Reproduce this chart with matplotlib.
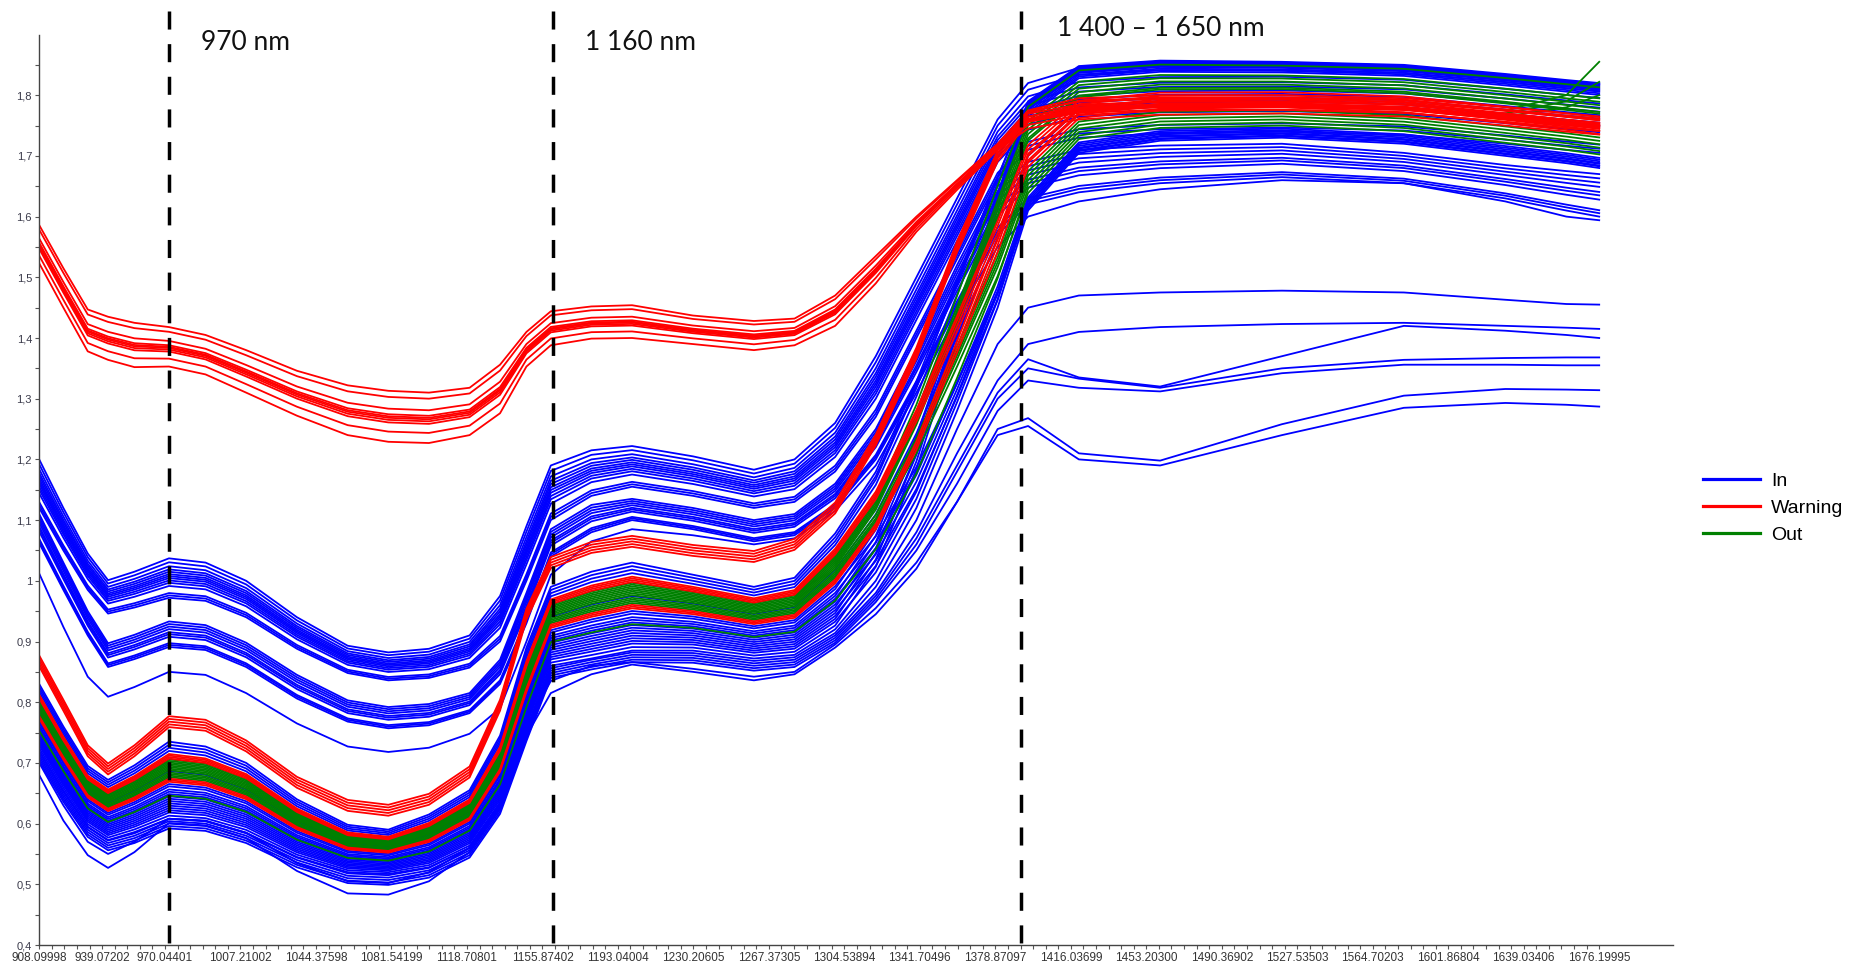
import numpy as np
import matplotlib
matplotlib.use("Agg")
import matplotlib.pyplot as plt
from matplotlib.lines import Line2D
from matplotlib.ticker import FixedLocator, FuncFormatter

plt.rcParams['font.family'] = ['Liberation Sans', 'DejaVu Sans']
plt.rcParams['lines.scale_dashes'] = False

WL = [908.1, 920, 932, 942, 955, 972, 990, 1010, 1035, 1060, 1080, 1100, 1120, 1135,
      1148, 1160, 1180, 1200, 1230, 1260, 1280, 1300, 1320, 1340, 1360, 1380, 1395,
      1420, 1460, 1520, 1580, 1630, 1660, 1676.2]

# share of the way each spectrum has moved from its low-region slot to its plateau slot
BLEND = [0] * 22 + [0.1, 0.3, 0.55, 0.8, 1, 1, 1, 1, 1, 1, 1, 1]

# --- bundle edges (absorbance) ---
RED_TOP_HI = [1.586, 1.515, 1.447, 1.435, 1.425, 1.418, 1.405, 1.38, 1.346, 1.322, 1.313, 1.31,
              1.318, 1.356, 1.41, 1.444, 1.452, 1.454, 1.437, 1.428, 1.432, 1.47, 1.535, 1.60,
              1.66, 1.72, 1.775, 1.795, 1.80, 1.80, 1.795, 1.78, 1.77, 1.765]
RED_TOP_LO = [1.523, 1.45, 1.378, 1.364, 1.352, 1.353, 1.34, 1.31, 1.272, 1.24, 1.229, 1.227,
              1.24, 1.276, 1.353, 1.388, 1.399, 1.40, 1.39, 1.38, 1.388, 1.42, 1.49, 1.575,
              1.644, 1.71, 1.745, 1.76, 1.768, 1.77, 1.765, 1.75, 1.74, 1.735]
RED_TOP_FRAC = [0.0, 0.2, 0.38, 0.43, 0.47, 0.5, 0.54, 0.65, 0.88, 1.0]

RED_MID = [0.868, 0.795, 0.72, 0.69, 0.72, 0.768, 0.762, 0.728, 0.668, 0.63, 0.622, 0.64,
           0.685, 0.795, 0.945, 1.03, 1.055, 1.065, 1.05, 1.04, 1.06, 1.12, 1.232, 1.375,
           1.55, 1.70, 1.765, 1.78, 1.785, 1.785, 1.78, 1.765, 1.755, 1.75]
RED_MID_OFFSETS = [-0.009, -0.0045, 0.0, 0.0045, 0.009]

UPPER_A_HI = [1.20, 1.12, 1.045, 1.001, 1.015, 1.037, 1.03, 1.00, 0.94, 0.893, 0.882, 0.888,
              0.91, 0.975, 1.09, 1.19, 1.215, 1.222, 1.205, 1.183, 1.20, 1.26, 1.37, 1.50,
              1.63, 1.76, 1.82, 1.845, 1.853, 1.853, 1.848, 1.833, 1.823, 1.818]
UPPER_A_LO = [1.12, 1.05, 0.985, 0.946, 0.956, 0.972, 0.967, 0.94, 0.888, 0.848, 0.836, 0.84,
              0.857, 0.90, 1.00, 1.10, 1.14, 1.155, 1.14, 1.12, 1.13, 1.18, 1.27, 1.40,
              1.53, 1.66, 1.71, 1.73, 1.737, 1.74, 1.735, 1.72, 1.71, 1.705]
UPPER_A_FRAC = [0.0, 0.06, 0.12, 0.3, 0.38, 0.44, 0.5, 0.55, 0.6, 0.66, 0.72, 0.8, 0.9, 1.0]

UPPER_B_HI = [1.11, 1.03, 0.95, 0.897, 0.911, 0.933, 0.927, 0.898, 0.845, 0.803, 0.792, 0.797,
              0.815, 0.87, 0.98, 1.085, 1.125, 1.135, 1.12, 1.10, 1.11, 1.16, 1.25, 1.38,
              1.52, 1.65, 1.69, 1.71, 1.717, 1.72, 1.705, 1.685, 1.675, 1.67]
UPPER_B_LO = [1.062, 0.985, 0.91, 0.858, 0.871, 0.891, 0.886, 0.858, 0.806, 0.768, 0.757, 0.762,
              0.782, 0.83, 0.93, 1.04, 1.08, 1.10, 1.085, 1.065, 1.075, 1.12, 1.20, 1.32,
              1.45, 1.57, 1.62, 1.64, 1.655, 1.665, 1.655, 1.63, 1.61, 1.60]
UPPER_B_FRAC = [0.0, 0.08, 0.15, 0.4, 0.5, 0.58, 0.7, 0.8, 0.9, 1.0]

SINGLE = [1.012, 0.924, 0.842, 0.809, 0.825, 0.85, 0.845, 0.815, 0.765, 0.727, 0.718, 0.725,
          0.748, 0.79, 0.90, 1.01, 1.065, 1.085, 1.075, 1.06, 1.07, 1.115, 1.19, 1.31,
          1.44, 1.55, 1.60, 1.625, 1.645, 1.66, 1.655, 1.625, 1.60, 1.594]

DENSE_HI = [0.830, 0.760, 0.695, 0.672, 0.696, 0.735, 0.727, 0.700, 0.640, 0.598, 0.590, 0.615,
            0.655, 0.745, 0.890, 0.990, 1.015, 1.030, 1.010, 0.990, 1.005, 1.078, 1.180, 1.330,
            1.500, 1.670, 1.790, 1.848, 1.857, 1.855, 1.850, 1.835, 1.825, 1.820]
DENSE_LO = [0.720, 0.655, 0.595, 0.573, 0.586, 0.608, 0.604, 0.585, 0.545, 0.520, 0.517, 0.528,
            0.560, 0.630, 0.750, 0.860, 0.872, 0.885, 0.885, 0.872, 0.878, 0.920, 1.000, 1.120,
            1.280, 1.450, 1.610, 1.705, 1.725, 1.730, 1.720, 1.700, 1.688, 1.680]
DENSE_IN_LOW = [0.00, 0.04, 0.08, 0.11, 0.14, 0.17, 0.20, 0.23, 0.26, 0.29, 0.32, 0.35, 0.38,
                0.42, 0.45, 0.62, 0.88, 0.92, 0.96, 1.00]
DENSE_IN_HIGH = [0.00, 0.92, 0.05, 0.96, 0.10, 1.00, 0.03, 0.88, 0.08, 0.94, 0.12, 0.98, 0.06,
                 0.90, 0.02, 0.50, 0.86, 0.99, 0.93, 0.97]
DENSE_WARN_LOW = [0.48, 0.50, 0.52, 0.78, 0.80, 0.82, 0.84]
DENSE_WARN_HIGH = [0.40, 0.46, 0.52, 0.44, 0.50, 0.56, 0.60]
DENSE_OUT_LOW = [0.30, 0.54, 0.56, 0.58, 0.60, 0.63, 0.65, 0.67, 0.69, 0.71, 0.73, 0.75, 0.77]
DENSE_OUT_HIGH = [0.20, 0.16, 0.24, 0.28, 0.32, 0.36, 0.66, 0.70, 0.74, 0.78, 0.82, 0.95, 0.64]

LOWEST_1 = [0.680, 0.605, 0.548, 0.527, 0.553, 0.601, 0.597, 0.576, 0.522, 0.485, 0.483, 0.505,
            0.553, 0.625, 0.745, 0.815, 0.846, 0.862, 0.850, 0.836, 0.846, 0.890, 0.945, 1.020,
            1.130, 1.250, 1.268, 1.210, 1.198, 1.258, 1.305, 1.316, 1.315, 1.314]
LOWEST_2 = [0.700, 0.630, 0.570, 0.550, 0.570, 0.608, 0.605, 0.585, 0.535, 0.505, 0.502, 0.520,
            0.560, 0.635, 0.760, 0.835, 0.860, 0.866, 0.855, 0.842, 0.850, 0.895, 0.955, 1.030,
            1.130, 1.240, 1.255, 1.200, 1.190, 1.240, 1.285, 1.293, 1.290, 1.287]

# late-rising spectra that stay below the plateau: shared low part, own tail from 1320 nm
OUTLIER_LOW = [0.715, 0.648, 0.59, 0.568, 0.58, 0.604, 0.6, 0.58, 0.54, 0.514, 0.511, 0.523,
               0.556, 0.628, 0.748, 0.852, 0.866, 0.878, 0.877, 0.864, 0.87, 0.91]
OUTLIER_SHIFT = [0.004, 0.0, -0.004, -0.008, -0.012]
OUTLIER_TAILS = [
    [0.99, 1.10, 1.25, 1.39, 1.45, 1.47, 1.475, 1.478, 1.475, 1.463, 1.456, 1.455],
    [0.98, 1.08, 1.21, 1.33, 1.39, 1.41, 1.418, 1.423, 1.425, 1.42, 1.417, 1.415],
    [0.975, 1.07, 1.19, 1.31, 1.365, 1.335, 1.32, 1.37, 1.42, 1.412, 1.405, 1.40],
    [0.97, 1.06, 1.18, 1.30, 1.35, 1.333, 1.318, 1.35, 1.364, 1.367, 1.368, 1.368],
    [0.965, 1.05, 1.16, 1.28, 1.33, 1.318, 1.312, 1.342, 1.356, 1.356, 1.355, 1.355],
]

# green spectra curling up at the long-wavelength end
GREEN_TAIL_WL = [1630, 1660, 1676.2]
GREEN_TAILS = [[1.775, 1.80, 1.855], [1.77, 1.79, 1.822], [1.765, 1.78, 1.80]]

X_LABELS = ['908.09998', '939.07202', '970.04401', '1007.21002', '1044.37598', '1081.54199',
            '1118.70801', '1155.87402', '1193.04004', '1230.20605', '1267.37305', '1304.53894',
            '1341.70496', '1378.87097', '1416.03699', '1453.20300', '1490.36902', '1527.53503',
            '1564.70203', '1601.86804', '1639.03406', '1676.19995']
MARKED_WL = [972.1, 1161.2, 1391.6]
MARK_TEXT = ['970 nm', '1 160 nm', '1 400 \u2013 1 650 nm']

COLORS = {'In': '#0000ff', 'Warning': '#ff0000', 'Out': '#008000'}

wl = np.array(WL)
blend = np.array(BLEND, dtype=float)


def band_line(lo, hi, f_low, f_high=None):
    lo, hi = np.array(lo), np.array(hi)
    if f_high is None:
        f_high = f_low
    f = (1 - blend) * f_low + blend * f_high
    return lo + f * (hi - lo)


spectra = []  # (values, status)
for f in UPPER_A_FRAC:
    spectra.append((band_line(UPPER_A_LO, UPPER_A_HI, f), 'In'))
for f in UPPER_B_FRAC:
    spectra.append((band_line(UPPER_B_LO, UPPER_B_HI, f), 'In'))
spectra.append((np.array(SINGLE), 'In'))
for a, b in zip(DENSE_IN_LOW, DENSE_IN_HIGH):
    spectra.append((band_line(DENSE_LO, DENSE_HI, a, b), 'In'))
spectra.append((np.array(LOWEST_1), 'In'))
spectra.append((np.array(LOWEST_2), 'In'))
for s, tail in zip(OUTLIER_SHIFT, OUTLIER_TAILS):
    spectra.append((np.concatenate([np.array(OUTLIER_LOW) + s, tail]), 'In'))
for a, b in zip(DENSE_OUT_LOW, DENSE_OUT_HIGH):
    spectra.append((band_line(DENSE_LO, DENSE_HI, a, b), 'Out'))
for a, b in zip(DENSE_WARN_LOW, DENSE_WARN_HIGH):
    spectra.append((band_line(DENSE_LO, DENSE_HI, a, b), 'Warning'))
for off in RED_MID_OFFSETS:
    spectra.append((np.array(RED_MID) + off, 'Warning'))
for f in RED_TOP_FRAC:
    spectra.append((band_line(RED_TOP_LO, RED_TOP_HI, f), 'Warning'))

W, H = 1865, 971
fig = plt.figure(figsize=(W / 100, H / 100), dpi=100)
ax = fig.add_axes([39 / W, 26 / H, (1673 - 39) / W, (945 - 34.5) / H])

for status in ['In', 'Out', 'Warning']:
    for vals, st in spectra:
        if st == status:
            ax.plot(wl, vals, color=COLORS[st], lw=1.3, solid_joinstyle='round')
    if status == 'Out':
        for tail in GREEN_TAILS:
            ax.plot(GREEN_TAIL_WL, tail, color=COLORS['Out'], lw=1.3)

# marked wavelengths
for x in MARKED_WL:
    ax.plot([x, x], [1.938, 0.4], color='black', lw=2.5, dashes=(13, 10.5),
            clip_on=False, zorder=5)

ax.set_xlim(908.0, 908.0 + (1673 - 39) / 2.031)
ax.set_ylim(0.4, 1.9)

for side in ['top', 'right']:
    ax.spines[side].set_visible(False)
for side in ['left', 'bottom']:
    ax.spines[side].set_color('#444444')
    ax.spines[side].set_linewidth(1.0)

x_major = [float(s) for s in X_LABELS]
step = (x_major[-1] - x_major[0]) / 124
ax.xaxis.set_major_locator(FixedLocator(x_major))
ax.xaxis.set_minor_locator(FixedLocator(x_major[0] + step * np.arange(125)))
ax.set_xticklabels(X_LABELS)
ax.yaxis.set_major_locator(FixedLocator(np.round(np.arange(0.4, 1.85, 0.1), 2)))
ax.yaxis.set_minor_locator(FixedLocator(np.round(np.arange(0.45, 1.9, 0.1), 2)))
ax.yaxis.set_major_formatter(FuncFormatter(lambda v, p: f"{round(v, 1):g}".replace('.', ',')))
ax.tick_params(axis='both', which='both', length=3, width=0.8, color='#555555')
ax.tick_params(axis='x', labelsize=8.5, labelcolor='#333333', pad=2)
ax.tick_params(axis='y', labelsize=8, labelcolor='#3a3a4a', pad=2)

# annotations above the marked wavelengths
for (px, py), txt in zip([(201, 43), (585, 43), (1057, 29)], MARK_TEXT):
    fig.text(px / W, 1 - py / H, txt, fontsize=19, family='Lato', color='#111111',
             ha='left', va='center')

handles = [Line2D([], [], color=COLORS[k], lw=2.3) for k in COLORS]
fig.legend(handles, list(COLORS), loc='upper left', bbox_to_anchor=(1703 / W, 1 - 472 / H),
           frameon=False, prop={'family': 'Liberation Sans', 'size': 14},
           handlelength=2.95, handletextpad=0.55, labelspacing=0.48,
           borderpad=0, borderaxespad=0)

fig.savefig('out.png', dpi=100)
